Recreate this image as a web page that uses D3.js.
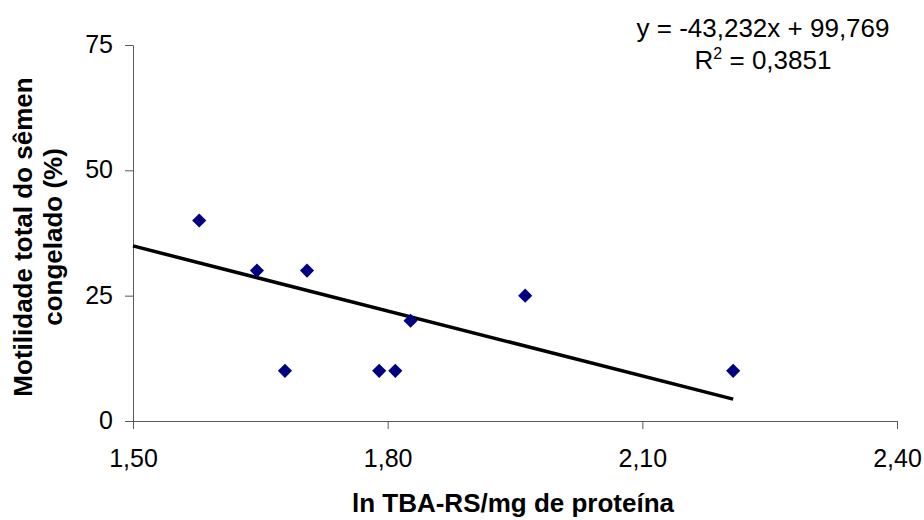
<!DOCTYPE html>
<html>
<head>
<meta charset="utf-8">
<script src="https://cdn.jsdelivr.net/npm/d3@7"></script>
<style>
  html, body { margin: 0; padding: 0; background: #fff; }
  svg { display: block; font-family: "Liberation Sans", Arial, sans-serif; }
</style>
</head>
<body>
<svg id="chart" width="924" height="520"></svg>
<script>
// ln TBA-RS per mg of protein (x) vs. total motility of frozen semen, %
const lnTbars   = [1.578, 1.646, 1.679, 1.705, 1.790, 1.809, 1.827, 1.962, 2.207];
const motility  = [40, 30, 10, 30, 10, 10, 20, 25, 10];

const xTicks = [1.5, 1.8, 2.1, 2.4];
const yTicks = [0, 25, 50, 75];

// Linear trend line reported with the chart
const slope = -43.232;
const intercept = 99.769;
const rSquared = 0.3851;

const xTitle = "ln TBA-RS/mg de proteína";
const yTitleLines = ["Motilidade total do sêmen", "congelado (%)"];

const ptBR = d3.formatLocale({ decimal: ",", thousands: ".", grouping: [3], currency: ["R$", ""], minus: "-" });
const f2 = ptBR.format(".2f");
const f3 = ptBR.format(".3f");
const f4 = ptBR.format(".4f");

const svg = d3.select("#chart");

const x = d3.scaleLinear().domain([1.5, 2.4]).range([133, 897]);
const y = d3.scaleLinear().domain([0, 75]).range([421, 45]);

const axisColor = "#5a5a5a";

// Y axis
const gy = svg.append("g")
  .attr("transform", `translate(${x(1.5)},0)`)
  .call(d3.axisLeft(y).tickValues(yTicks).tickSize(8).tickSizeOuter(0).tickPadding(12).tickFormat(d => d));
gy.selectAll("path, line").attr("stroke", axisColor);
gy.selectAll("text")
  .attr("font-size", 25)
  .attr("font-family", "Liberation Sans, Arial, sans-serif")
  .attr("fill", "#000")
  .attr("dy", "0.3em");

// X axis
const gx = svg.append("g")
  .attr("transform", `translate(0,${y(0)})`)
  .call(d3.axisBottom(x).tickValues(xTicks).tickSize(8).tickSizeOuter(0).tickFormat(d => f2(d)));
gx.selectAll("path, line").attr("stroke", axisColor);
gx.selectAll("text")
  .attr("font-size", 25)
  .attr("font-family", "Liberation Sans, Arial, sans-serif")
  .attr("fill", "#000")
  .attr("y", 46)
  .attr("dy", 0);

// Trend line across the observed range
const xMax = d3.max(lnTbars);
const trend = [1.5, xMax].map(v => [v, slope * v + intercept]);
svg.append("path")
  .datum(trend)
  .attr("d", d3.line().x(d => x(d[0])).y(d => y(d[1])))
  .attr("fill", "none")
  .attr("stroke", "#000")
  .attr("stroke-width", 3.5);

// Data points (diamonds)
const diamond = d3.symbol().type(d3.symbolSquare).size(100);
svg.append("g")
  .selectAll("path")
  .data(lnTbars.map((v, i) => [v, motility[i]]))
  .join("path")
  .attr("d", diamond)
  .attr("transform", d => `translate(${x(d[0])},${y(d[1])}) rotate(45)`)
  .attr("fill", "#000080");

// Regression equation and R²
const eq = svg.append("g").attr("font-size", 26).attr("text-anchor", "middle").attr("fill", "#000");
eq.append("text")
  .attr("x", 763).attr("y", 37)
  .text(`y = ${f3(slope)}x + ${f3(intercept)}`);
const r2 = eq.append("text").attr("x", 763).attr("y", 69);
r2.append("tspan").text("R");
r2.append("tspan").attr("font-size", 16).attr("dy", -10).text("2");
r2.append("tspan").attr("dy", 10).text(` = ${f4(rSquared)}`);

// Axis titles
svg.append("text")
  .attr("x", 513).attr("y", 512)
  .attr("text-anchor", "middle")
  .attr("font-size", 26)
  .attr("font-weight", "bold")
  .text(xTitle);

const yt = svg.append("text")
  .attr("transform", "translate(0,237) rotate(-90)")
  .attr("text-anchor", "middle")
  .attr("font-size", 26)
  .attr("font-weight", "bold");
yTitleLines.forEach((line, i) => {
  yt.append("tspan").attr("x", 0).attr("y", 32 + i * 30).text(line);
});
</script>
</body>
</html>
